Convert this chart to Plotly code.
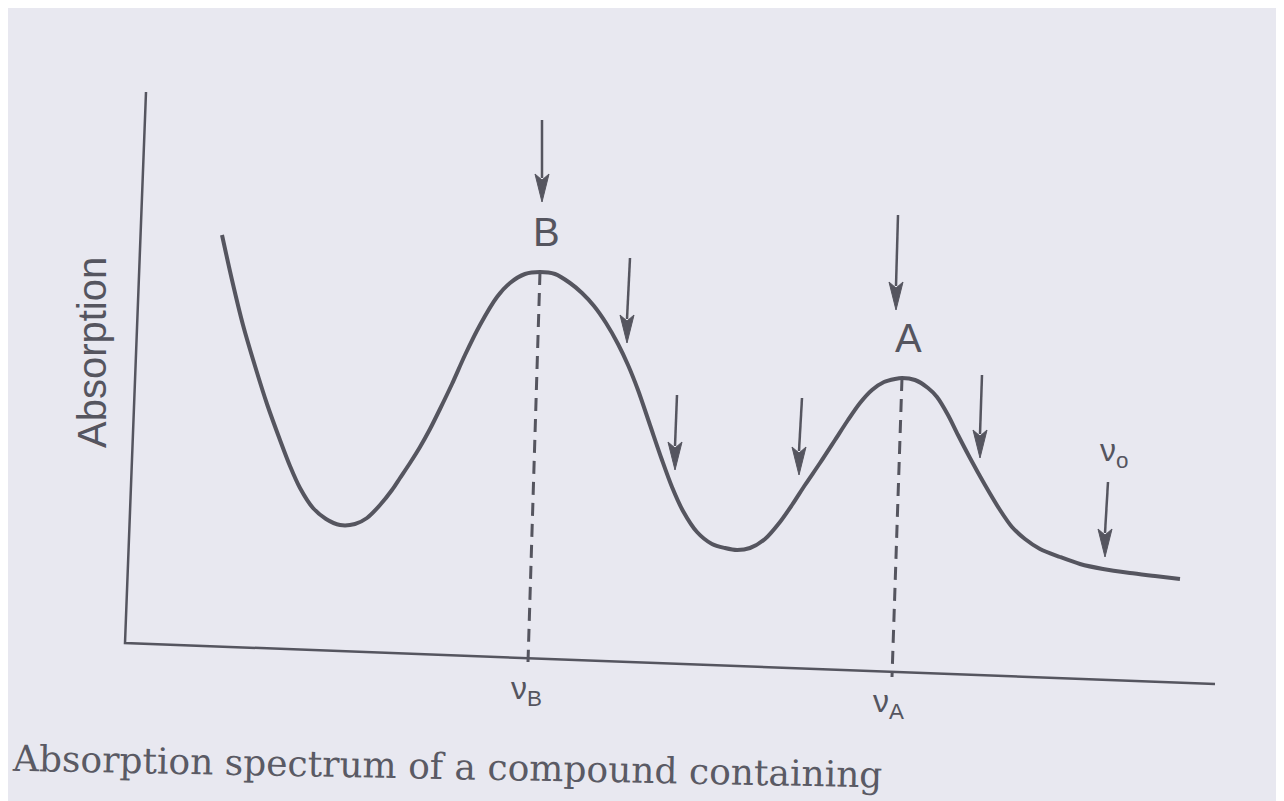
import plotly.graph_objects as go

# ---- data (horizontal position, vertical position from top, in picture units) ----
curve_x = [222, 232, 243, 255, 267, 280, 290, 300, 313, 326, 340, 355, 367, 380, 392, 400, 410, 420,
           430, 440, 452, 465, 480, 497, 510, 525, 540, 555, 570, 582, 594, 606, 618, 628, 638, 650,
           662, 672, 683, 697, 712, 725, 737, 750, 765, 780, 792, 805, 820, 835, 848, 860, 872, 884,
           895, 902, 915, 928, 937, 948, 958, 970, 985, 1000, 1012, 1025, 1040, 1060, 1080, 1103,
           1130, 1155, 1180]
curve_y = [235, 280, 325, 366, 404, 440, 466, 488, 508, 519, 525, 524, 518, 505, 490, 478, 463, 447,
           429, 409, 384, 355, 325, 297, 283, 274, 272, 274, 283, 293, 306, 323, 344, 365, 390, 425,
           460, 487, 511, 532, 544, 548, 550, 548, 539, 522, 505, 485, 463, 440, 420, 403, 390, 382,
           379, 378, 380, 388, 397, 415, 435, 458, 485, 510, 527, 539, 549, 557, 564, 569,
           573, 576, 579]

axis_x = [146, 125, 1215]
axis_y = [92, 643, 684]

peak_names = ["B", "A"]
peak_x = [540, 902]
peak_y = [272, 378]
foot_x = [528, 892]
foot_y = [662, 677]

arrow_tail_x = [542, 630, 677, 802, 898, 982, 1108]
arrow_tail_y = [120, 258, 395, 398, 215, 375, 482]
arrow_tip_x = [542, 627, 675, 799, 896, 980, 1105]
arrow_tip_y = [202, 343, 470, 475, 310, 458, 557]

freq_labels = ["ν<sub>B</sub>", "ν<sub>A</sub>", "ν<sub>o</sub>"]

# ---- styling ----
INK = "#55555f"
BG = "#e8e8f0"
HEAD_LEN = 28
HEAD_HALF = 7
PAGE_OFFSET = 8  # browser body margin; the figure starts 8 px in from the window corner

fig = go.Figure()

# axes
fig.add_trace(go.Scatter(x=axis_x, y=axis_y, mode="lines",
                         line=dict(color=INK, width=2.5), hoverinfo="skip"))

# spectrum curve
fig.add_trace(go.Scatter(x=curve_x, y=curve_y, mode="lines",
                         line=dict(color=INK, width=4, shape="spline", smoothing=0.8),
                         hoverinfo="skip"))

# dashed drop lines from peaks
for px, py, fx, fy in zip(peak_x, peak_y, foot_x, foot_y):
    fig.add_trace(go.Scatter(x=[px, fx], y=[py, fy], mode="lines",
                             line=dict(color=INK, width=3, dash="13px,8px"),
                             hoverinfo="skip"))

# arrows (shaft + filled narrow head)
for sx, sy, tx, ty in zip(arrow_tail_x, arrow_tail_y, arrow_tip_x, arrow_tip_y):
    fig.add_trace(go.Scatter(x=[sx, tx], y=[sy, ty - HEAD_LEN + 4], mode="lines",
                             line=dict(color=INK, width=2.5), hoverinfo="skip"))
    fig.add_trace(go.Scatter(x=[tx - HEAD_HALF, tx, tx + HEAD_HALF, tx, tx - HEAD_HALF],
                             y=[ty - HEAD_LEN, ty, ty - HEAD_LEN, ty - HEAD_LEN + 6, ty - HEAD_LEN],
                             mode="lines", fill="toself", fillcolor=INK,
                             line=dict(color=INK, width=1), hoverinfo="skip"))

annotations = []
# peak letters
for name, px, py in zip(peak_names, peak_x, peak_y):
    annotations.append(dict(x=px + 6, y=py - 16, text=name, showarrow=False,
                            xanchor="center", yanchor="bottom",
                            font=dict(family="Liberation Sans, Arial", size=40, color=INK)))
# frequency labels
label_x = [foot_x[0] - 2, foot_x[1] - 4, arrow_tail_x[-1] + 6]
label_y = [foot_y[0] + 28, foot_y[1] + 26, arrow_tail_y[-1] - 30]
for t, lx, ly in zip(freq_labels, label_x, label_y):
    annotations.append(dict(x=lx, y=ly, text=t, showarrow=False, xanchor="center",
                            yanchor="middle",
                            font=dict(family="Liberation Sans, Arial", size=32, color=INK)))
# y-axis title
annotations.append(dict(x=92, y=353, text="Absorption", showarrow=False, textangle=-90,
                        xanchor="center", yanchor="middle",
                        font=dict(family="Liberation Sans, Arial", size=40, color=INK)))
# caption along the bottom of the scan
annotations.append(dict(x=10, y=766, text="Absorption spectrum of a compound containing",
                        showarrow=False, textangle=1.1, xanchor="left", yanchor="middle",
                        font=dict(family="DejaVu Serif", size=36, color="#5a5a64")))

fig.update_layout(
    width=1284 - PAGE_OFFSET, height=801 - PAGE_OFFSET,
    margin=dict(l=0, r=0, t=0, b=0),
    paper_bgcolor=BG, plot_bgcolor=BG,
    showlegend=False,
    xaxis=dict(range=[PAGE_OFFSET, 1284], visible=False, fixedrange=True),
    yaxis=dict(range=[801, PAGE_OFFSET], visible=False, fixedrange=True),
    annotations=annotations,
)

fig.write_html("out.html")
